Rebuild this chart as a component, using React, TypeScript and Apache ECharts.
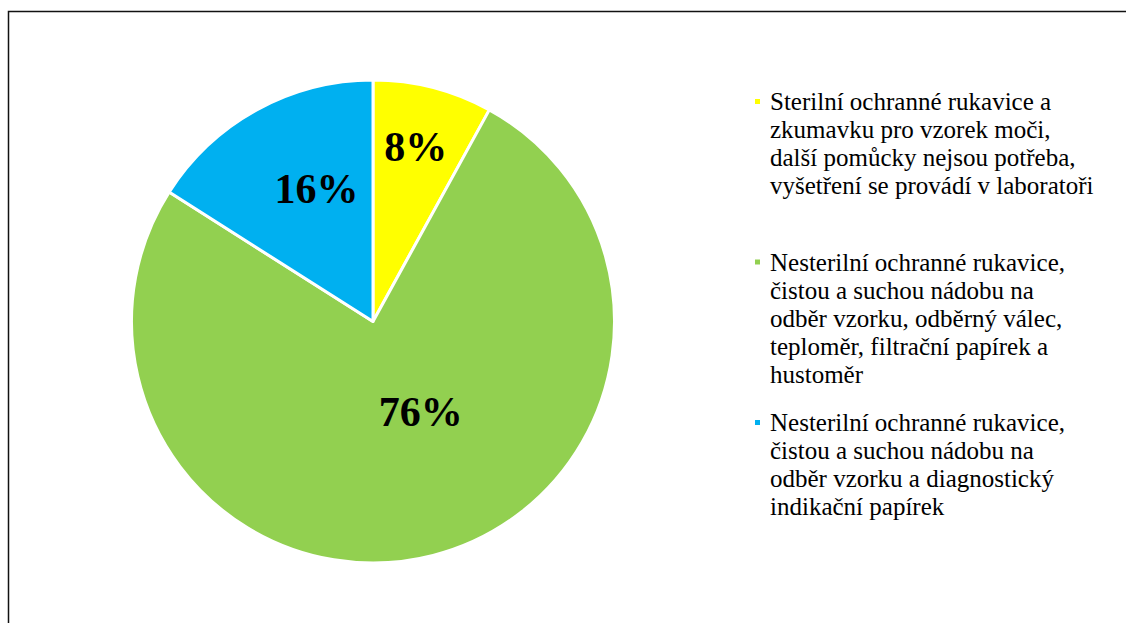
import { useEffect, useRef } from "react";
import * as echarts from "echarts";

const categories = [
  "Sterilní ochranné rukavice a\nzkumavku pro vzorek moči,\ndalší pomůcky nejsou potřeba,\nvyšetření se provádí v laboratoři",
  "Nesterilní ochranné rukavice,\nčistou a suchou nádobu na\nodběr vzorku, odběrný válec,\nteploměr, filtrační papírek a\nhustoměr",
  "Nesterilní ochranné rukavice,\nčistou a suchou nádobu na\nodběr vzorku a diagnostický\nindikační papírek",
];
const values = [8, 76, 16];
const colors = ["#FFFF00", "#92D050", "#00B0F0"];
const labelOffsets = [
  [12, -55],
  [17, -29],
  [3, -24],
];

const FONT = "Liberation Serif";
const LINE_H = 28;

export default function App() {
  const ref = useRef<HTMLDivElement>(null);
  useEffect(() => {
    if (!ref.current) return;
    const chart = echarts.init(ref.current, undefined, { renderer: "svg" });
    const data = categories.map((name, i) => ({
      name,
      value: values[i],
      itemStyle: { color: colors[i] },
      label: { offset: labelOffsets[i] },
    }));
    chart.setOption({
      animation: false,
      backgroundColor: "#ffffff",
      graphic: [
        {
          type: "rect",
          silent: true,
          shape: { x: 8.5, y: 11.5, width: 1300, height: 800 },
          style: { fill: "none", stroke: "#111", lineWidth: 1.5 },
        },
      ],
      legend: {
        orient: "vertical",
        left: 753,
        top: 3.5,
        padding: 0,
        itemWidth: 7,
        itemHeight: 7,
        itemGap: -63.5,
        icon: "rect",
        selectedMode: false,
        formatter: (name: string) => {
          const n = name.split("\n").length;
          return "\n".repeat(n - 1) + name;
        },
        textStyle: {
          fontFamily: FONT,
          fontSize: 25,
          lineHeight: LINE_H,
          color: "#000",
          padding: [0, 0, 0, 4],
        },
        data: categories,
      },
      series: [
        {
          type: "pie",
          center: [373, 321.5],
          radius: 241.5,
          startAngle: 90,
          clockwise: true,
          avoidLabelOverlap: false,
          itemStyle: { borderColor: "#ffffff", borderWidth: 3 },
          emphasis: { disabled: true },
          label: {
            show: true,
            position: "inside",
            formatter: "{d}%",
            fontFamily: FONT,
            fontWeight: "bold",
            fontSize: 42,
            color: "#000",
          },
          labelLine: { show: false },
          data,
        },
      ],
    });
    return () => chart.dispose();
  }, []);
  return (
    <div
      ref={ref}
      style={{ position: "fixed", left: 0, top: 0, width: 1126, height: 623 }}
    />
  );
}
